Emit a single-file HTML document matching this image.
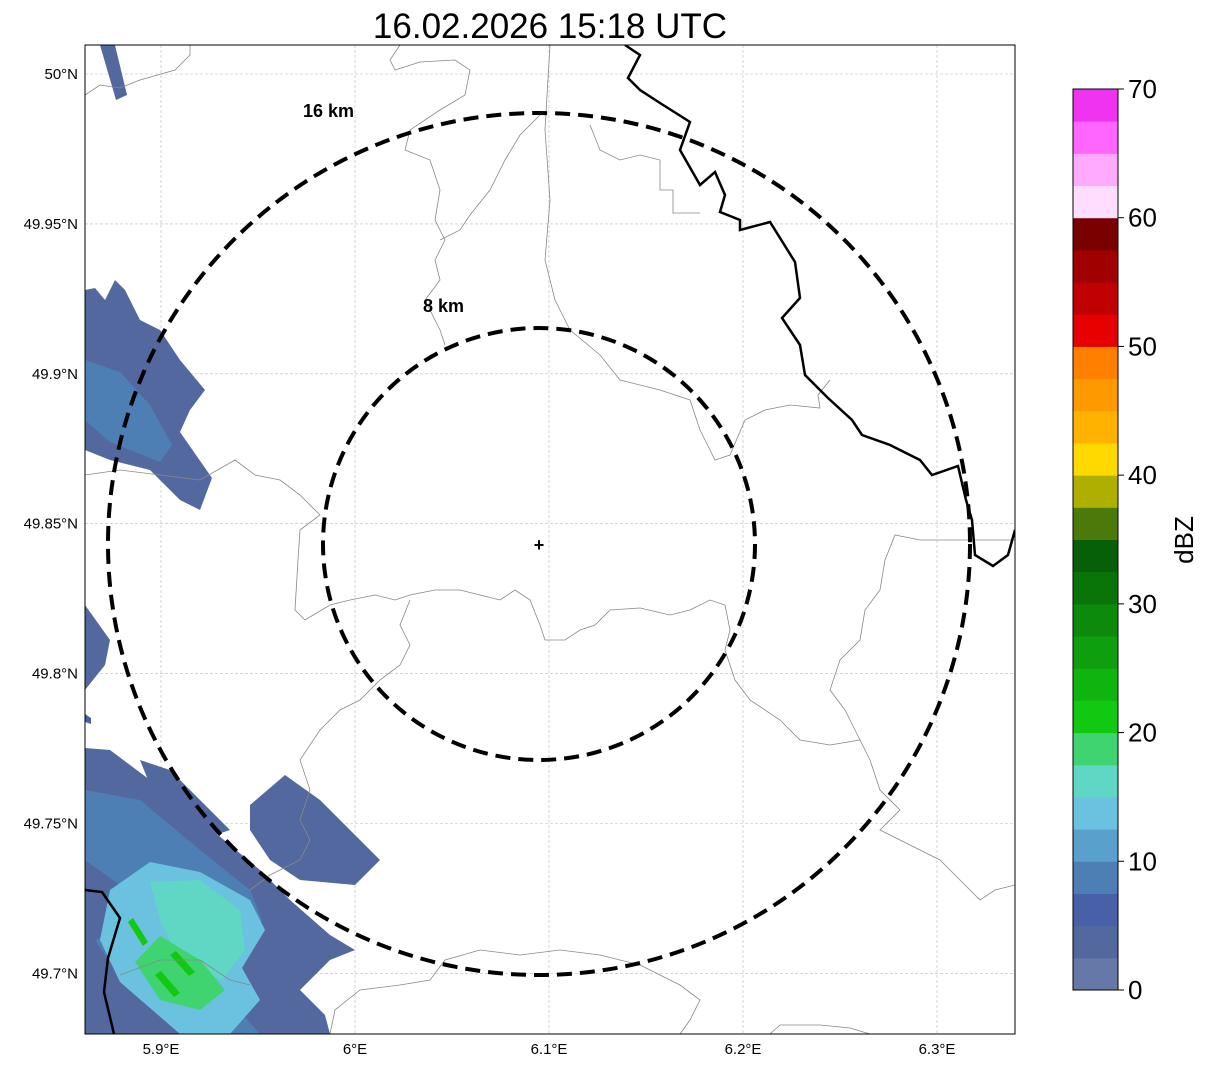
<!DOCTYPE html>
<html><head><meta charset="utf-8"><style>
body{margin:0;background:#fff;width:1207px;height:1069px;overflow:hidden;font-family:"Liberation Sans",sans-serif}
</style></head><body>
<svg id="chart" width="1207" height="1069" xmlns="http://www.w3.org/2000/svg" font-family="Liberation Sans, sans-serif">
<defs><clipPath id="ax"><rect x="85" y="45" width="930" height="989"/></clipPath></defs>
<text x="550" y="38" font-size="35" text-anchor="middle">16.02.2026 15:18 UTC</text>
<g id="grid"></g>
<g clip-path="url(#ax)">
 <g id="rain"></g>
 <g fill="none" stroke="#888" stroke-width="0.8">
  <path d="M85,95 L100,85 120,88 140,80 175,70 190,55 190,45"/>
  <path d="M400,45 L390,60 395,70 420,62 455,60 470,70 465,95 440,110 410,130 405,150 430,160 440,190 435,220 445,240 435,260 440,280 425,300 440,330 445,345"/>
  <path d="M540,115 L520,135 505,160 490,190 470,215 460,230 440,240"/>
  <path d="M550,45 L545,130 550,200 545,260 555,300 570,330 600,355 620,380 660,390 690,400 700,430 715,460 730,455 745,420 765,410 790,405 820,408 818,395 830,380"/>
  <path d="M590,125 L600,150 620,160 640,155 660,160 660,190 673,190 673,213 700,213"/>
  <path d="M85,475 L120,470 160,475 200,480 235,460 255,475 280,480 300,495 320,515 300,530 298,560 295,610 305,620 330,605 350,600 375,595 395,600 410,595 435,590 460,590 480,595 500,600 515,590 530,600 540,625 545,640 565,640 580,630 595,625 610,610 640,608 670,615 690,610 710,600 725,605 730,630 725,650 735,680 750,700 780,720 800,740 830,745 860,740 870,760 880,790 900,810 880,830 900,840 920,850 940,860 960,880 980,900 995,890 1015,885"/>
  <path d="M410,600 L400,625 410,645 400,665 380,680 360,700 340,710 320,730 300,760 310,790 300,820 310,840 300,860 270,875 250,890"/>
  <path d="M1015,540 L960,540 920,540 895,535 885,560 880,590 865,610 860,640 840,660 830,690 845,710 860,740"/>
  <path d="M330,1034 L335,1010 360,990 400,985 430,980 445,960 480,950 520,955 560,950 600,955 640,965 680,985 700,1000 690,1020 680,1034"/>
  <path d="M770,1034 L780,1025 820,1025 850,1028 870,1034"/>
  <path d="M120,975 L160,960 200,960 230,980 250,985"/>
 </g>
 <g fill="none" stroke="#000" stroke-width="2.5">
  <path d="M625,45 L640,55 628,78 640,90 660,103 690,122 680,150 700,185 715,172 725,195 720,212 740,220 740,230 770,222 795,262 800,298 782,318 800,345 805,375 828,398 852,420 862,435 890,445 920,460 932,475 958,466 966,500 972,520 975,555 993,566 1008,555 1015,530"/>
  <path d="M85,890 L102,892 120,918 108,958 104,992 114,1034"/>
 </g>
 <g fill="none" stroke="#000" stroke-width="4" stroke-dasharray="15,8">
  <ellipse cx="539" cy="544" rx="431" ry="431"/>
  <ellipse cx="539" cy="544" rx="216" ry="216"/>
 </g>
 <text x="539" y="551" font-size="18" font-weight="bold" text-anchor="middle">+</text>
 <text x="303" y="117" font-size="18" font-weight="bold">16 km</text>
 <text x="423" y="312" font-size="18" font-weight="bold">8 km</text>
</g>
<rect x="85" y="45" width="930" height="989" fill="none" stroke="#000" stroke-width="1"/>
<g id="ticks" font-size="15"></g>
<g id="cbar"></g>
<text transform="translate(1193,540) rotate(-90)" font-size="26" text-anchor="middle">dBZ</text>
</svg>
<script>
const NS='http://www.w3.org/2000/svg';
const xTicks=[5.9,6.0,6.1,6.2,6.3];
const xLabels=['5.9°E','6°E','6.1°E','6.2°E','6.3°E'];
const yTicks=[50.0,49.95,49.9,49.85,49.8,49.75,49.7];
const yLabels=['50°N','49.95°N','49.9°N','49.85°N','49.8°N','49.75°N','49.7°N'];
const cbLevels=[0,2.5,5,7.5,10,12.5,15,17.5,20,22.5,25,27.5,30,32.5,35,37.5,40,42.5,45,47.5,50,52.5,55,57.5,60,62.5,65,67.5];
const cbColors=['#6678a8','#5468a0','#4860a8','#4d7fb5','#5aa0cc','#6ac2e0','#60d6c4','#3fd46f','#11c911','#0fb40f','#0d9f0d','#0b8a0b','#097509','#075f07','#4b7a0a','#afaf00','#ffd900','#ffb300','#ff9900','#ff7f00','#e60000','#c00000','#a00000','#7a0000','#ffddff','#ffaaff','#ff66ff','#f033f0'];
const cbTicks=[0,10,20,30,40,50,60,70];
const lon=v=>161+(v-5.9)*1940;
const lat=v=>74+(50-v)*2998;
const dbz=v=>990-v/70*901;
function mk(tag,attrs,parent){const e=document.createElementNS(NS,tag);for(const k in attrs)e.setAttribute(k,attrs[k]);parent.appendChild(e);return e;}
const grid=document.getElementById('grid'),ticks=document.getElementById('ticks');
xTicks.forEach((v,i)=>{
 const l=mk('line',{x1:lon(v),x2:lon(v),y1:45,y2:1034,stroke:'#bbb','stroke-width':0.6,'stroke-dasharray':'3,2'},grid);
 
 
 const t=mk('text',{x:lon(v),y:1054,'text-anchor':'middle'},ticks);t.textContent=xLabels[i];
 
 
});
yTicks.forEach((v,i)=>{
 const l=mk('line',{x1:85,x2:1015,y1:lat(v),y2:lat(v),stroke:'#bbb','stroke-width':0.6,'stroke-dasharray':'3,2'},grid);
 
 
 const t=mk('text',{x:78,y:lat(v)+5,'text-anchor':'end'},ticks);t.textContent=yLabels[i];
 
 
});
const cb=document.getElementById('cbar');
cbLevels.forEach((v,i)=>{
 const y1=dbz(v),y0=dbz(v+2.5);
 const r=mk('rect',{x:1073,y:y0,width:45,height:y1-y0+0.5,fill:cbColors[i]},cb);
 
 
});
mk('rect',{x:1073,y:dbz(70),width:45,height:dbz(0)-dbz(70),fill:'none',stroke:'#000','stroke-width':1},cb);
cbTicks.forEach(v=>{
 mk('line',{x1:1118,x2:1124,y1:dbz(v),y2:dbz(v),stroke:'#000'},cb);
 const t=mk('text',{x:1128,y:dbz(v)+9,'font-size':26},cb);t.textContent=v;
 
 
});
const rainLevels=[1,1,3,1,3,5,6,7,8,8,8,1,3,1,1,2];
const rainShapes=[
 '85,748 110,750 150,780 200,820 260,870 290,900 330,935 355,950 330,960 300,990 325,1015 330,1034 85,1034',
 '250,805 285,775 320,800 345,825 380,860 355,885 300,880 270,860 250,830',
 '85,790 140,800 200,850 250,890 262,920 240,950 180,920 120,885 85,860',
 '140,760 170,770 200,800 230,830 200,840 160,810',
 '95,940 120,930 180,970 230,1000 260,1034 190,1034 130,990',
 '110,890 150,862 200,872 250,900 265,930 242,968 260,1000 230,1034 180,1034 120,982 100,940',
 '150,882 200,880 240,910 245,950 222,980 180,962 160,920',
 '135,962 160,936 200,960 225,990 200,1010 160,1000',
 '128,922 133,918 148,942 143,946',
 '170,955 176,951 195,972 189,976',
 '155,975 161,971 180,993 174,997',
 '85,290 95,288 105,300 115,280 125,290 140,320 160,330 180,360 205,390 190,410 180,432 212,478 200,510 180,500 150,470 110,460 85,450',
 '85,360 120,372 150,405 172,445 160,462 110,442 85,420',
 '85,605 110,640 105,665 85,690',
 '100,45 115,45 127,95 116,100',
 '85,714 91,718 91,724 85,722'
];
const rain=document.getElementById('rain');
rainShapes.forEach((p,i)=>{
 const e=mk('polygon',{points:p,fill:cbColors[rainLevels[i]]},rain);
 
 
});
</script>
</body></html>
